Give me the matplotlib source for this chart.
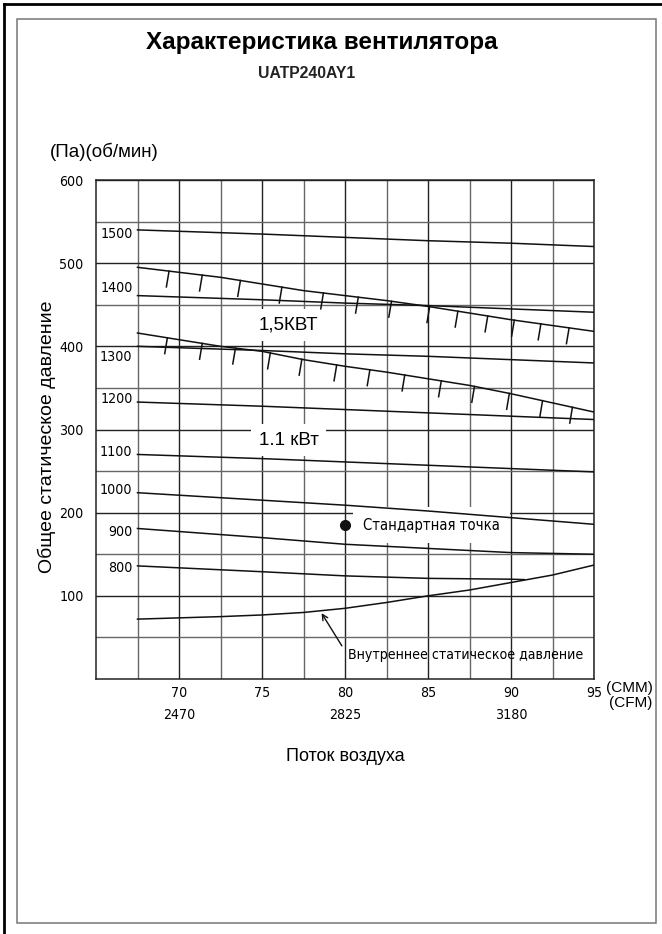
import matplotlib
matplotlib.use("Agg")
import matplotlib.pyplot as plt
from matplotlib import font_manager as fm
from matplotlib.lines import Line2D
from matplotlib.patches import Rectangle
import numpy as np

plt.rcParams['font.family'] = ['Liberation Sans', 'DejaVu Sans']

# look for a narrow face for the numbers, like on the printed sheet
narrow_files = [f.fname for f in fm.fontManager.ttflist
                if ('Narrow' in f.fname or 'Condensed' in f.fname)
                and 'Bold' not in f.fname and 'Oblique' not in f.fname and 'Italic' not in f.fname]
narrow_files.sort(key=lambda p: (0 if 'Liberation' in p else 1, len(p)))


def nfont(size):
    if narrow_files:
        return fm.FontProperties(fname=narrow_files[0], size=size)
    return fm.FontProperties(family='Liberation Sans', size=size * 0.9)


# fan curves
rpm_flow = [67.5, 75, 80, 85, 90, 95]
rpm_1500 = [540, 535, 531, 527, 524, 520]
rpm_1400 = [461, 456, 452, 449, 445, 441]
rpm_1300 = [400, 395, 391, 388, 384, 380]
rpm_1200 = [333, 328, 324, 320, 316, 312]
rpm_1100 = [270, 265, 261, 257, 253, 249]
rpm_1000 = [224, 215, 209, 202, 194, 186]
rpm_900 = [181, 170, 162, 157, 152, 150]
flow_800 = [67.5, 75, 77.5, 80, 85, 90, 90.8]
rpm_800 = [136, 129, 126.5, 124, 121, 120, 119.5]

flow = [67.5, 70, 72.5, 75, 77.5, 80, 82.5, 85, 87.5, 90, 92.5, 95]
kw_15 = [495, 489, 483, 475, 467, 461, 455, 448, 440, 432, 425, 418]
kw_11 = [416, 408, 400, 394, 384, 376, 369, 361, 353, 343, 332, 321]
internal = [72, 73.5, 75, 77, 80, 85, 92, 100, 107, 116, 125, 137]

hatch_15 = [69.4, 71.4, 73.7, 76.2, 78.7, 80.8, 82.8, 85.1, 86.8, 88.6, 90.2, 91.8, 93.5]
hatch_11 = [69.3, 71.4, 73.4, 75.5, 77.4, 79.5, 81.5, 83.6, 85.8, 87.8, 89.9, 91.9, 93.7]

std_flow = 80
std_pressure = 185

cmm_ticks = [70, 75, 80, 85, 90, 95]
cfm_labels = ['2470', '', '2825', '', '3180', '']

rpm_curves = [
    ('1500', rpm_flow, rpm_1500, -5),
    ('1400', rpm_flow, rpm_1400, 9),
    ('1300', rpm_flow, rpm_1300, -13),
    ('1200', rpm_flow, rpm_1200, 4),
    ('1100', rpm_flow, rpm_1100, 3),
    ('1000', rpm_flow, rpm_1000, 3),
    ('900', rpm_flow, rpm_900, -4),
    ('800', flow_800, rpm_800, -3),
]

fig = plt.figure(figsize=(6.62, 9.34), dpi=100)
W, H = 662, 934

# page frames
fig.add_artist(Line2D([4 / W, 1], [1 - 4 / H, 1 - 4 / H], color='black', lw=2))
fig.add_artist(Line2D([4 / W, 4 / W], [0, 1 - 4 / H], color='black', lw=2))
fig.add_artist(Rectangle((16.5 / W, 1 - 922.5 / H), (655.5 - 16.5) / W, (922.5 - 18.5) / H,
                         fill=False, ec='#777777', lw=1.1))

ax = fig.add_axes([96 / W, 1 - 679 / H, (594 - 96) / W, (679 - 180) / H])
ax.set_xlim(65, 95)
ax.set_ylim(0, 600)

num_size = 10.2
ax.set_xticks(cmm_ticks)
ax.set_xticklabels([f'{c}\n{f}' if f else f'{c}' for c, f in zip(cmm_ticks, cfm_labels)],
                   fontproperties=nfont(num_size), va='top')
for lab in ax.get_xticklabels():
    lab.set_linespacing(1.7)
ax.set_xticks(np.arange(67.5, 95, 5), minor=True)
ax.set_yticks(range(100, 601, 100))
ax.set_yticklabels([str(v) for v in range(100, 601, 100)], fontproperties=nfont(num_size))
ax.set_yticks(range(50, 600, 100), minor=True)
ax.tick_params(which='both', length=0)
ax.tick_params(axis='x', pad=5)
ax.tick_params(axis='y', pad=9)
ax.grid(which='major', color='#222222', lw=1.0)
ax.grid(which='minor', color='#666666', lw=1.0)
ax.set_axisbelow(True)
for s in ax.spines.values():
    s.set_linewidth(1.1)
    s.set_color('#222222')

line_kw = dict(color='#111111', lw=1.1, zorder=3)
for name, xs, ys, off in rpm_curves:
    ax.plot(xs, ys, **line_kw)
    ax.text(67.2, ys[0] + off, name, ha='right', va='center',
            fontproperties=nfont(num_size), zorder=3)

for curve, hx in [(kw_15, hatch_15), (kw_11, hatch_11)]:
    ax.plot(flow, curve, **line_kw)
    top = np.interp(hx, flow, curve)
    for x0, y0 in zip(hx, top):
        ax.plot([x0, x0 - 0.16], [y0, y0 - 19], **line_kw)

ax.plot(flow, internal, **line_kw)

ax.text(76.6, 426, '1,5КВТ', ha='center', va='center', fontsize=13.5, zorder=2,
        bbox=dict(boxstyle='square,pad=0.4', fc='white', ec='none'))
ax.text(76.6, 287, '1.1 кВт', ha='center', va='center', fontsize=13.5, zorder=2,
        bbox=dict(boxstyle='square,pad=0.4', fc='white', ec='none'))

ax.plot(std_flow, std_pressure, 'o', ms=7, color='#111111', zorder=4)
ax.text(81.1, std_pressure, 'Стандартная точка', ha='left', va='center',
        fontproperties=nfont(10.6), zorder=2,
        bbox=dict(boxstyle='square,pad=0.7', fc='white', ec='none'))

ax.annotate('', xy=(78.5, 82), xytext=(79.9, 37),
            arrowprops=dict(arrowstyle='->', lw=1.0, color='#111111'), zorder=4)
ax.text(80.2, 29, 'Внутреннее статическое давление', ha='left', va='center',
        fontproperties=nfont(10.1), zorder=4)

ax.annotate('(CMM)\n(CFM)', xy=(95, 0), xycoords='data', xytext=(8.5, -12),
            textcoords='offset points', ha='left', va='center', multialignment='right',
            fontsize=11, linespacing=1.05)

ax.set_xlabel('Поток воздуха', fontsize=13, labelpad=19)
fig.text(47 / W, 1 - 437 / H, 'Общее статическое давление', rotation=90,
         ha='center', va='center', fontsize=14)

fig.text(322 / W, 1 - 42 / H, 'Характеристика вентилятора', ha='center', va='center',
         fontsize=17.5, fontweight='bold')
fig.text(307 / W, 1 - 73 / H, 'UATP240AY1', ha='center', va='center',
         fontsize=11.3, fontweight='bold', color='#222222')
fig.text(50 / W, 1 - 152 / H, '(Па)(об/мин)', ha='left', va='center', fontsize=13.5)

fig.savefig('out.png', dpi=100)
